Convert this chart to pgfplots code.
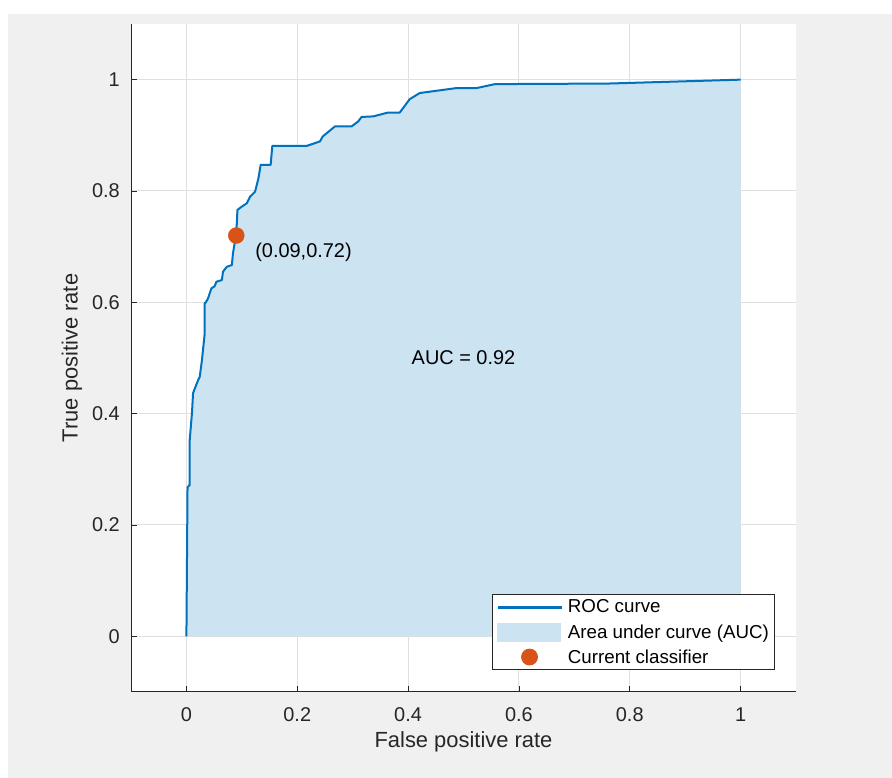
\documentclass[border=0pt]{standalone}
\usepackage{pgfplots}
\pgfplotsset{compat=1.18}
\usepackage{pgfplotstable}
\usepackage{fontspec}
\setmainfont{Liberation Sans}
\definecolor{rocblue}{RGB}{0,114,189}
\definecolor{aucfill}{RGB}{204,227,242}
\definecolor{clsorange}{RGB}{217,83,25}
\definecolor{figgray}{RGB}{240,240,240}
\definecolor{axcol}{RGB}{38,38,38}
\definecolor{gridcol}{RGB}{223,223,223}

\pgfplotstableread{
x y
0.000 0.000
0.002 0.268
0.006 0.272
0.006 0.353
0.010 0.401
0.012 0.437
0.021 0.460
0.024 0.466
0.028 0.496
0.033 0.544
0.033 0.598
0.035 0.600
0.039 0.607
0.045 0.625
0.051 0.629
0.054 0.637
0.064 0.640
0.066 0.655
0.073 0.664
0.082 0.667
0.084 0.688
0.089 0.718
0.091 0.742
0.092 0.766
0.100 0.772
0.109 0.778
0.115 0.790
0.124 0.799
0.130 0.823
0.134 0.847
0.152 0.847
0.155 0.881
0.217 0.881
0.241 0.889
0.246 0.898
0.268 0.916
0.298 0.916
0.310 0.925
0.316 0.933
0.337 0.934
0.364 0.941
0.385 0.941
0.403 0.965
0.421 0.976
0.451 0.980
0.488 0.985
0.524 0.985
0.557 0.992
0.761 0.993
1.000 1.000
}\roc

\begin{document}
\begin{tikzpicture}
\path[use as bounding box, fill=white] (0,0) rectangle (892bp,778bp);
\fill[figgray] (8bp,0) rectangle (892bp,764bp);
\begin{axis}[
  at={(131bp,86bp)}, anchor=south west,
  width=665bp, height=668bp, scale only axis,
  xmin=-0.1, xmax=1.1, ymin=-0.1, ymax=1.1,
  axis x line=bottom, axis y line=left,
  axis line style={-, draw=axcol, line width=1bp},
  axis background/.style={fill=white},
  xtick={0,0.2,0.4,0.6,0.8,1}, ytick={0,0.2,0.4,0.6,0.8,1},
  xticklabels={0,0.2,0.4,0.6,0.8,1},
  yticklabels={0,0.2,0.4,0.6,0.8,1},
  tick align=inside, major tick length=6bp,
  tick style={draw=axcol, line width=0.8bp},
  grid=major, major grid style={draw=gridcol, line width=1bp},
  xticklabel style={anchor=center, inner sep=0pt, yshift=-23bp, font=\fontsize{20}{24}\selectfont, text=axcol},
  yticklabel style={anchor=east, inner sep=0pt, xshift=-11bp, font=\fontsize{20}{24}\selectfont, text=axcol},
  every axis x label/.style={at={(axis description cs:0.5,0)}, anchor=center, yshift=-50bp, font=\fontsize{22}{26}\selectfont, text=axcol},
  every axis y label/.style={at={(axis description cs:-0.0887,0.5)}, rotate=90, anchor=center, font=\fontsize{22}{26}\selectfont, text=axcol},
  xlabel={False positive rate},
  ylabel={True positive rate},
  legend style={at={(axis description cs:0.968,0.033)}, anchor=south east, draw=axcol, line width=0.8bp, fill=white, font=\fontsize{18.8}{21}\selectfont, text=black, inner xsep=3.5bp, inner ysep=3bp, row sep=6bp, column sep=3bp, cells={anchor=west}},
]
\addplot[fill=aucfill, draw=none, forget plot] table {\roc} \closedcycle;
\addplot[rocblue, line width=2bp, line join=round, legend image code/.code={\draw[rocblue, line width=2.8bp] (0bp,0bp) -- (64bp,0bp);}] table {\roc};
\addlegendentry{ROC curve}
\addlegendimage{legend image code/.code={\fill[aucfill] (0bp,-9bp) rectangle (63bp,9bp);}}
\addlegendentry{Area under curve (AUC)}
\addplot[only marks, mark=*, mark size=8bp, draw=clsorange, fill=clsorange, legend image code/.code={\fill[clsorange] (32bp,0bp) circle (8bp);}] coordinates {(0.09,0.72)};
\addlegendentry{Current classifier}
\node[anchor=west, inner sep=0pt, font=\fontsize{20}{24}\selectfont] at (axis cs:0.124,0.689) {(0.09,0.72)};
\node[anchor=center, inner sep=0pt, font=\fontsize{20}{24}\selectfont] at (axis cs:0.5,0.5) {AUC = 0.92};
\end{axis}
\end{tikzpicture}
\end{document}
